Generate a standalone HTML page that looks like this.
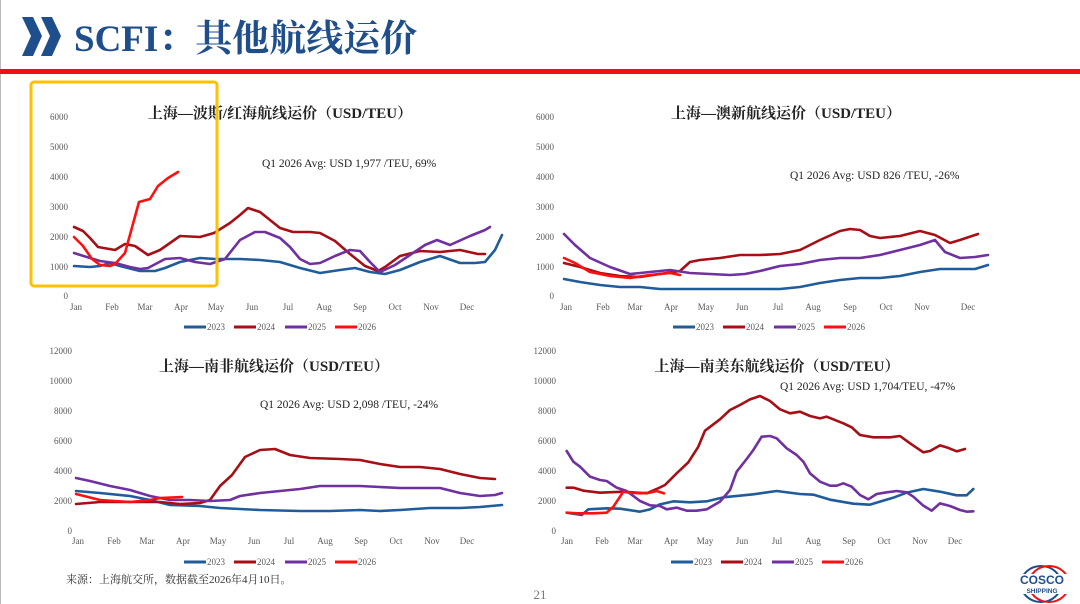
<!DOCTYPE html>
<html><head><meta charset="utf-8"><style>
body{margin:0;background:#fff;}
svg{display:block;font-family:"Liberation Serif","Noto Serif CJK SC",serif;}
.ax{font-size:9px;fill:#595959;}
.ttl{font-size:15px;font-weight:bold;fill:#222;}
.ann{font-size:11.5px;fill:#222;}
.lg{font-size:9px;fill:#595959;}
polyline{fill:none;stroke-width:2.6;stroke-linejoin:round;stroke-linecap:round;}
.c3{stroke:#1F5C99}.c4{stroke:#A50F15}.c5{stroke:#7030A0}.c6{stroke:#FF1010}
</style></head><body>
<svg width="1080" height="604" viewBox="0 0 1080 604">
<rect x="0" y="0" width="1080" height="604" fill="#fff"/>
<line x1="0.5" y1="0" x2="0.5" y2="604" stroke="#bbb"/>
<polygon points="22,17 33,17 42,36 33,56 22,56 31,36" fill="#1F4E8C"/>
<polygon points="41,17 52,17 61,36 52,56 41,56 50,36" fill="#1F4E8C"/>
<text x="74" y="51" font-size="37" font-weight="bold" fill="#1F4E8C">SCFI：其他航线运价</text>
<rect x="0" y="69" width="1080" height="5" fill="#EE1111"/>

<g class="ax" text-anchor="end">
<text x="68" y="120">6000</text><text x="68" y="150">5000</text><text x="68" y="180">4000</text><text x="68" y="210">3000</text><text x="68" y="240">2000</text><text x="68" y="270">1000</text><text x="68" y="299">0</text>
<text x="554" y="120">6000</text><text x="554" y="150">5000</text><text x="554" y="180">4000</text><text x="554" y="210">3000</text><text x="554" y="240">2000</text><text x="554" y="270">1000</text><text x="554" y="299">0</text>
<text x="72" y="354">12000</text><text x="72" y="384">10000</text><text x="72" y="414">8000</text><text x="72" y="444">6000</text><text x="72" y="474">4000</text><text x="72" y="504">2000</text><text x="72" y="534">0</text>
<text x="556" y="354">12000</text><text x="556" y="384">10000</text><text x="556" y="414">8000</text><text x="556" y="444">6000</text><text x="556" y="474">4000</text><text x="556" y="504">2000</text><text x="556" y="534">0</text>
</g>
<g class="ax" text-anchor="middle">
<text x="76" y="310">Jan</text><text x="112" y="310">Feb</text><text x="145" y="310">Mar</text><text x="181" y="310">Apr</text><text x="216" y="310">May</text><text x="252" y="310">Jun</text><text x="288" y="310">Jul</text><text x="324" y="310">Aug</text><text x="360" y="310">Sep</text><text x="395" y="310">Oct</text><text x="431" y="310">Nov</text><text x="467" y="310">Dec</text>
<text x="566" y="310">Jan</text><text x="603" y="310">Feb</text><text x="635" y="310">Mar</text><text x="671" y="310">Apr</text><text x="706" y="310">May</text><text x="742" y="310">Jun</text><text x="778" y="310">Jul</text><text x="813" y="310">Aug</text><text x="850" y="310">Sep</text><text x="886" y="310">Oct</text><text x="922" y="310">Nov</text><text x="968" y="310">Dec</text>
<text x="78" y="544">Jan</text><text x="114" y="544">Feb</text><text x="147" y="544">Mar</text><text x="183" y="544">Apr</text><text x="218" y="544">May</text><text x="254" y="544">Jun</text><text x="289" y="544">Jul</text><text x="325" y="544">Aug</text><text x="361" y="544">Sep</text><text x="396" y="544">Oct</text><text x="432" y="544">Nov</text><text x="467" y="544">Dec</text>
<text x="567" y="544">Jan</text><text x="602" y="544">Feb</text><text x="635" y="544">Mar</text><text x="671" y="544">Apr</text><text x="705" y="544">May</text><text x="742" y="544">Jun</text><text x="777" y="544">Jul</text><text x="813" y="544">Aug</text><text x="849" y="544">Sep</text><text x="884" y="544">Oct</text><text x="920" y="544">Nov</text><text x="955" y="544">Dec</text>
</g>
<text class="ttl" x="280" y="118" text-anchor="middle">上海—波斯/红海航线运价（USD/TEU）</text>
<text class="ttl" x="786" y="118" text-anchor="middle">上海—澳新航线运价（USD/TEU）</text>
<text class="ttl" x="274" y="371" text-anchor="middle">上海—南非航线运价（USD/TEU）</text>
<text class="ttl" x="777" y="371" text-anchor="middle">上海—南美东航线运价（USD/TEU）</text>
<text class="ann" x="262" y="167">Q1 2026 Avg: USD  1,977 /TEU, 69%</text>
<text class="ann" x="790" y="179">Q1 2026 Avg: USD  826 /TEU, -26%</text>
<text class="ann" x="260" y="408">Q1 2026 Avg: USD  2,098 /TEU, -24%</text>
<text class="ann" x="780" y="390">Q1 2026 Avg: USD  1,704/TEU, -47%</text>

<polyline class="c3" points="74,266 90,267 100,266 110,263 120,266 140,271 155,271 165,268 180,262 200,258 215,259 240,259 260,260 280,262 300,268 320,273 340,270 355,268 370,272 385,274 400,270 420,262 440,256 460,263 475,263 485,262 495,250 502,235"/>
<polyline class="c4" points="74,227 83,231 90,238 98,247 115,250 125,244 135,246 148,255 160,250 180,236 200,237 214,233 230,223 240,215 248,208 260,212 270,220 280,228 293,232 310,232 320,233 335,241 350,254 365,266 378,271 385,267 400,256 420,251 440,252 460,250 478,254 485,254"/>
<polyline class="c5" points="74,253 90,258 100,261 115,263 130,267 140,269 148,268 165,259 180,258 195,262 210,264 225,259 240,240 255,232 265,232 280,238 290,247 300,259 310,264 320,263 335,256 350,250 360,251 370,262 380,272 395,265 410,255 425,245 437,240 450,245 470,236 485,230 490,227"/>
<polyline class="c6" points="74,237 83,246 92,259 100,265 110,266 115,264 125,253 139,202 150,199 158,186 168,178 178,172"/>

<polyline class="c3" points="564,279 580,282 600,285 620,287 640,287 660,289 700,289 740,289 780,289 800,287 820,283 840,280 860,278 880,278 900,276 920,272 940,269 975,269 988,265"/>
<polyline class="c4" points="564,263 580,267 600,273 620,276 640,277 660,274 680,271 690,262 700,260 720,258 740,255 760,255 780,254 800,250 820,240 840,231 850,229 860,230 870,236 880,238 900,236 920,231 935,235 950,243 960,240 978,234"/>
<polyline class="c5" points="564,234 575,245 590,258 610,267 630,274 650,272 670,270 690,273 710,274 730,275 745,274 760,271 780,266 800,264 820,260 840,258 860,258 880,255 900,250 920,245 935,240 945,252 960,258 975,257 988,255"/>
<polyline class="c6" points="564,258 575,263 590,272 610,276 630,278 650,275 670,273 680,275"/>

<polyline class="c3" points="76,491 100,493 130,496 150,500 170,505 200,506 220,508 260,510 300,511 330,511 360,510 380,511 400,510 430,508 460,508 480,507 502,505"/>
<polyline class="c4" points="76,504 100,502 130,502 160,502 180,504 200,503 210,500 220,486 232,475 245,457 260,450 275,449 290,455 310,458 340,459 360,460 380,464 400,467 420,467 440,469 460,474 480,478 495,479"/>
<polyline class="c5" points="76,478 90,481 110,486 130,490 150,496 170,500 190,500 210,501 230,500 240,496 260,493 280,491 300,489 320,486 340,486 360,486 380,487 400,488 440,488 460,493 480,496 495,495 502,493"/>
<polyline class="c6" points="76,494 100,500 130,502 150,500 160,498 182,497"/>

<g transform="translate(540,340) scale(0.33333)">
<polyline class="c3" vector-effect="non-scaling-stroke" points="80,518 125,525 145,508 200,505 240,506 300,515 330,508 360,493 400,484 450,487 500,484 550,472 640,463 710,453 780,462 820,464 870,479 940,491 990,494 1060,473 1100,458 1150,447 1200,455 1250,466 1280,466 1300,447"/>
<polyline class="c4" vector-effect="non-scaling-stroke" points="80,443 100,443 130,452 180,458 250,455 320,460 350,447 375,435 410,400 445,367 475,320 495,272 540,238 570,210 600,195 630,178 660,168 690,183 720,208 750,220 780,215 810,228 840,235 860,230 890,242 910,250 935,262 960,285 1000,292 1050,292 1080,288 1110,310 1150,337 1170,333 1200,316 1220,322 1250,334 1275,327"/>
<polyline class="c5" vector-effect="non-scaling-stroke" points="80,333 100,365 120,380 150,410 180,420 200,423 230,443 260,453 300,483 330,496 360,498 380,508 410,503 440,512 470,512 500,508 540,485 570,450 590,395 620,357 640,330 665,290 690,288 710,295 740,325 770,345 790,365 810,400 840,425 870,437 890,437 910,430 935,440 960,465 985,478 1010,462 1040,457 1070,453 1100,457 1120,470 1150,497 1175,512 1200,490 1230,498 1260,510 1280,515 1300,514"/>
<polyline class="c6" vector-effect="non-scaling-stroke" points="80,518 110,520 160,520 200,518 220,500 250,455 270,458 300,460 330,458 350,453 372,460"/>
</g>

<g class="lg">
<g transform="translate(184,327)"><line x1="0" y1="0" x2="22" y2="0" stroke="#1F5C99" stroke-width="3"/><text x="23" y="3">2023</text><line x1="50" y1="0" x2="72" y2="0" stroke="#A50F15" stroke-width="3"/><text x="73" y="3">2024</text><line x1="101" y1="0" x2="123" y2="0" stroke="#7030A0" stroke-width="3"/><text x="124" y="3">2025</text><line x1="151" y1="0" x2="173" y2="0" stroke="#FF1010" stroke-width="3"/><text x="174" y="3">2026</text></g>
<g transform="translate(673,327)"><line x1="0" y1="0" x2="22" y2="0" stroke="#1F5C99" stroke-width="3"/><text x="23" y="3">2023</text><line x1="50" y1="0" x2="72" y2="0" stroke="#A50F15" stroke-width="3"/><text x="73" y="3">2024</text><line x1="101" y1="0" x2="123" y2="0" stroke="#7030A0" stroke-width="3"/><text x="124" y="3">2025</text><line x1="151" y1="0" x2="173" y2="0" stroke="#FF1010" stroke-width="3"/><text x="174" y="3">2026</text></g>
<g transform="translate(184,562)"><line x1="0" y1="0" x2="22" y2="0" stroke="#1F5C99" stroke-width="3"/><text x="23" y="3">2023</text><line x1="50" y1="0" x2="72" y2="0" stroke="#A50F15" stroke-width="3"/><text x="73" y="3">2024</text><line x1="101" y1="0" x2="123" y2="0" stroke="#7030A0" stroke-width="3"/><text x="124" y="3">2025</text><line x1="151" y1="0" x2="173" y2="0" stroke="#FF1010" stroke-width="3"/><text x="174" y="3">2026</text></g>
<g transform="translate(671,562)"><line x1="0" y1="0" x2="22" y2="0" stroke="#1F5C99" stroke-width="3"/><text x="23" y="3">2023</text><line x1="50" y1="0" x2="72" y2="0" stroke="#A50F15" stroke-width="3"/><text x="73" y="3">2024</text><line x1="101" y1="0" x2="123" y2="0" stroke="#7030A0" stroke-width="3"/><text x="124" y="3">2025</text><line x1="151" y1="0" x2="173" y2="0" stroke="#FF1010" stroke-width="3"/><text x="174" y="3">2026</text></g>
</g>

<rect x="31" y="82" width="186" height="204" rx="3" fill="none" stroke="#FFC000" stroke-width="3"/>

<text x="66" y="583" font-size="11" fill="#333">来源：上海航交所，数据截至2026年4月10日。</text>
<text x="540" y="599" font-size="13" fill="#777" text-anchor="middle">21</text>

<ellipse cx="1041" cy="584" rx="20" ry="18" fill="none" stroke="#1F4E8C" stroke-width="2"/>
<ellipse cx="1049" cy="584" rx="20" ry="18" fill="none" stroke="#E11" stroke-width="2"/>
<rect x="1006" y="574" width="70" height="20" fill="#fff"/>
<text x="1042" y="584" font-family="Liberation Sans,sans-serif" font-weight="bold" font-size="12" fill="#1F4E8C" text-anchor="middle">COSCO</text>
<text x="1042" y="593" font-family="Liberation Sans,sans-serif" font-weight="bold" font-size="6.5" fill="#1F4E8C" text-anchor="middle">SHIPPING</text>
</svg>
</body></html>
